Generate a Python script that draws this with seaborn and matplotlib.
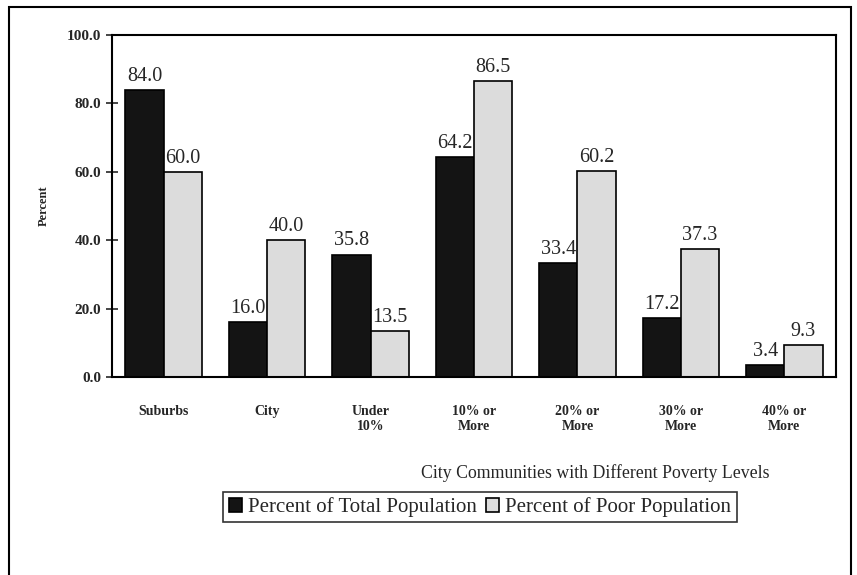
import pandas as pd
import matplotlib.pyplot as plt
import seaborn as sns
from matplotlib.patches import Rectangle

# values
categories = ['Suburbs', 'City', 'Under\n10%', '10% or\nMore', '20% or\nMore',
              '30% or\nMore', '40% or\nMore']
total_pop = [84.0, 16.0, 35.8, 64.2, 33.4, 17.2, 3.4]
poor_pop = [60.0, 40.0, 13.5, 86.5, 60.2, 37.3, 9.3]
series = ['Percent of Total Population', 'Percent of Poor Population']

data = pd.DataFrame({
    'Community': categories * 2,
    'Percent': total_pop + poor_pop,
    'Series': [series[0]] * len(categories) + [series[1]] * len(categories),
})

sns.set_style('white')
plt.rcParams['font.family'] = ['Liberation Serif', 'DejaVu Serif']

fig = plt.figure(figsize=(8.57, 5.75), dpi=100)
ax = fig.add_axes([0.1307, 0.3443, 0.8448, 0.5947])

sns.barplot(data=data, x='Community', y='Percent', hue='Series',
            palette=['#141414', '#dcdcdc'], edgecolor='black', linewidth=1.2,
            width=0.74, saturation=1, legend=False, ax=ax)

for cont in ax.containers:
    ax.bar_label(cont, fmt='%.1f', padding=3, fontsize=14.5)

ax.set_ylim(0, 100)
ax.set_xlim(-0.5, len(categories) - 0.5)
ax.set_yticks(range(0, 101, 20))
ax.set_yticklabels([f'{v:.1f}' for v in range(0, 101, 20)],
                   fontsize=11, fontweight='bold')
ax.set_xticks(range(len(categories)))
ax.set_xticklabels(categories, fontsize=10, fontweight='bold')
ax.set_xticks([i + 0.5 for i in range(len(categories) - 1)], minor=True)
ax.tick_params(axis='x', which='major', length=0, pad=20)
ax.tick_params(axis='x', which='minor', direction='inout', length=7, width=1.2)
ax.tick_params(axis='y', direction='inout', length=8, width=1.2, pad=4, left=True)
ax.set_xlabel('')
ax.set_ylabel('Percent', fontsize=9, fontweight='bold', labelpad=12)
for s in ax.spines.values():
    s.set_visible(True)
    s.set_color('black')
    s.set_linewidth(1.5)

fig.text(0.694, 0.177, 'City Communities with Different Poverty Levels',
         ha='center', va='center', fontsize=12.8)

leg = fig.legend(ax.containers, series, loc='center', ncol=2,
                 bbox_to_anchor=(0.56, 0.118), fontsize=15, frameon=True,
                 fancybox=False, edgecolor='black', handlelength=0.65,
                 handleheight=0.65, handletextpad=0.3, columnspacing=0.4,
                 borderpad=0.25, borderaxespad=0)
leg.get_frame().set_linewidth(1.2)

fig.patches.append(Rectangle((0.0105, -0.02), 0.9825, 1.008, transform=fig.transFigure,
                             fill=False, edgecolor='black', linewidth=1.5))

plt.savefig('out.png', dpi=100)
